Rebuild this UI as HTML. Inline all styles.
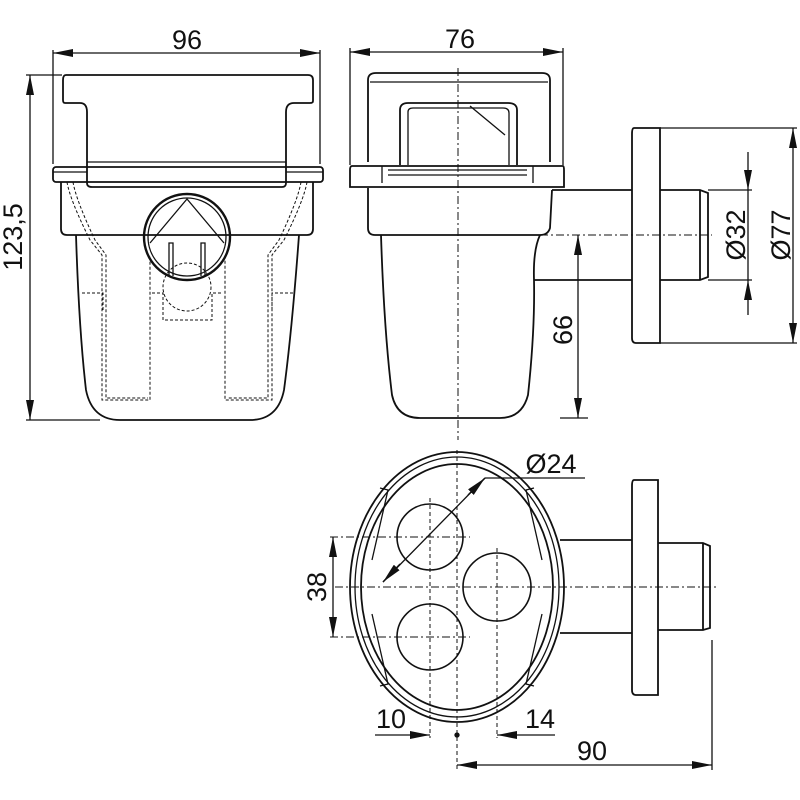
<!DOCTYPE html>
<html><head><meta charset="utf-8"><style>
html,body{margin:0;padding:0;background:#fff;width:800px;height:800px;overflow:hidden}
svg{display:block}
text{font-family:"Liberation Sans",sans-serif;font-size:27px;fill:#111}
</style></head><body>
<svg width="800" height="800" viewBox="0 0 800 800" xmlns="http://www.w3.org/2000/svg">
<defs>
<marker id="a" viewBox="0 0 20 8" refX="20" refY="4" markerWidth="20" markerHeight="8" orient="auto-start-reverse" markerUnits="userSpaceOnUse"><path d="M0,0 L20,4 L0,8z" fill="#111"/></marker>
</defs>
<g fill="none" stroke="#111" stroke-width="1.3">
<!-- LEFT VIEW -->
<line x1="53" y1="50" x2="53" y2="164"/><line x1="320" y1="50" x2="320" y2="164"/>
<line x1="53" y1="53" x2="320" y2="53" marker-start="url(#a)" marker-end="url(#a)"/>
<line x1="26" y1="75" x2="62" y2="75"/><line x1="26" y1="420" x2="100" y2="420"/>
<line x1="30" y1="75" x2="30" y2="420" marker-start="url(#a)" marker-end="url(#a)"/>
<path d="M66,75 H308 Q313,75 313,80 V101 Q313,103 310,103 H294 Q286,103 286,112 V183 Q286,187 282,187 H92 Q87,187 87,183 V112 Q87,103 80,103 H65 Q63,103 63,100 V80 Q63,75 66,75Z" stroke-width="1.8"/>
<line x1="87" y1="162" x2="286" y2="162"/>
<rect x="53" y="167" width="270" height="15" rx="3" stroke-width="1.8"/>
<line x1="53" y1="172" x2="87" y2="172"/><line x1="286" y1="172" x2="323" y2="172"/>
<path d="M61,182 V229 Q61,235 67,235 H307 Q313,235 313,229 V182" stroke-width="1.8"/>
<path d="M76,235 Q79,330 86,390 Q92,420 120,420 H250 Q278,420 284,390 Q292,330 299,235" stroke-width="1.8"/>
<circle cx="187" cy="237" r="43" stroke-width="2.4"/>
<circle cx="187" cy="237" r="39"/>
<path d="M150,243 L187,199 L224,243"/>
<path d="M169,276 V243 H173 V276 M201,276 V243 H205 V276"/>
<g stroke-dasharray="3,2" stroke-width="1">
<circle cx="187" cy="287" r="24"/>
<path d="M67,182 Q70,200 90,240 L102,255 V400 H150 V255"/>
<path d="M73,182 Q76,200 95,240 L106,255 V398 H148"/>
<path d="M307,182 Q304,200 284,240 L272,255 V400 H225 V255"/>
<path d="M301,182 Q298,200 279,240 L268,255 V398 H227"/>
<path d="M82,293 H103 V310 M293,293 H272 V310 M152,293 H163 V320 H212 V293 H222"/>
</g>
<!-- MIDDLE VIEW -->
<line x1="350" y1="48" x2="350" y2="165"/><line x1="563" y1="48" x2="563" y2="165"/>
<line x1="350" y1="52" x2="563" y2="52" marker-start="url(#a)" marker-end="url(#a)"/>
<line x1="458" y1="68" x2="458" y2="440" stroke-dasharray="8,3,2,3" stroke-width="1"/>
<path d="M368,162 V80 Q368,73 376,73 H542 Q550,73 550,80 V162" stroke-width="1.8"/>
<line x1="370" y1="82" x2="548" y2="82"/>
<path d="M400,165 V110 Q400,103 408,103 H508 Q517,103 517,110 V165" stroke-width="1.8"/>
<path d="M408,165 V112 Q408,108 413,108 H503 Q509,108 509,113 V165"/>
<path d="M470,106 L505,135"/>
<path d="M352,166 H563 Q564,166 564,170 V187 H350 V170 Q350,166 352,166Z" stroke-width="1.8"/>
<path d="M382,166 V183 M533,166 V183 M388,170 H527 M388,175 H527"/>
<path d="M368,188 V228 Q368,235 375,235 H540 Q548,235 550,228 L552,190" stroke-width="1.8"/>
<path d="M381,235 Q384,330 392,395 Q397,418 420,418 H500 Q522,418 528,395 Q535,330 534,280 Q533,250 540,235" stroke-width="1.8"/>
<path d="M552,190 H632 M534,280 H632" stroke-width="1.8"/>
<path d="M634,128 H660 V343 H636 Q632,343 632,338 V134 Q632,128 634,128Z" stroke-width="1.8"/>
<path d="M660,190 H700 L708,193 V277 L700,280 H660 M700,190 V280" stroke-width="1.8"/>
<line x1="540" y1="235" x2="712" y2="235" stroke-dasharray="8,3,2,3" stroke-width="1"/>
<line x1="560" y1="418" x2="588" y2="418"/>
<line x1="578" y1="235" x2="578" y2="418" marker-start="url(#a)" marker-end="url(#a)"/>
<line x1="708" y1="190" x2="752" y2="190"/><line x1="708" y1="280" x2="752" y2="280"/>
<line x1="748" y1="152" x2="748" y2="190" marker-end="url(#a)"/>
<line x1="748" y1="315" x2="748" y2="280" marker-end="url(#a)"/>
<line x1="748" y1="190" x2="748" y2="280"/>
<line x1="660" y1="128" x2="797" y2="128"/><line x1="660" y1="343" x2="797" y2="343"/>
<line x1="793" y1="128" x2="793" y2="343" marker-start="url(#a)" marker-end="url(#a)"/>
<!-- BOTTOM VIEW -->
<ellipse cx="457" cy="587" rx="107" ry="135" stroke-width="1.8"/>
<ellipse cx="457" cy="587" rx="102" ry="130"/>
<ellipse cx="457" cy="587" rx="96" ry="123" stroke-width="1.8"/>
<path d="M380,488 L388,490 L372,560 M380,686 L388,684 L372,614 M534,488 L526,490 L542,560 M534,686 L526,684 L542,614"/>
<circle cx="430" cy="537" r="33" stroke-width="1.6"/>
<circle cx="430" cy="637" r="33" stroke-width="1.6"/>
<circle cx="497" cy="587" r="34" stroke-width="1.6"/>
<g stroke-dasharray="8,3,2,3" stroke-width="1">
<line x1="335" y1="587" x2="716" y2="587"/>
<line x1="330" y1="537" x2="470" y2="537"/>
<line x1="330" y1="637" x2="470" y2="637"/>
</g>
<g stroke-dasharray="4,3" stroke-width="1">
<line x1="457" y1="450" x2="457" y2="770"/>
<line x1="430" y1="498" x2="430" y2="738"/>
<line x1="497" y1="548" x2="497" y2="738"/>
</g>
<path d="M560,540 H632 M560,633 H632" stroke-width="1.8"/>
<path d="M634,480 H658 V695 H636 Q632,695 632,690 V486 Q632,480 634,480Z" stroke-width="1.8"/>
<path d="M658,543 H703 L710,546 V628 L703,630 H658 M703,543 V630" stroke-width="1.8"/>
<line x1="333" y1="537" x2="333" y2="637" marker-start="url(#a)" marker-end="url(#a)"/>
<line x1="485" y1="478" x2="585" y2="478"/>
<line x1="383" y1="582" x2="485" y2="478"/>
<line x1="400" y1="564" x2="383" y2="582" marker-end="url(#a)"/>
<line x1="468" y1="495" x2="485" y2="478" marker-end="url(#a)"/>
<line x1="375" y1="735" x2="430" y2="735" marker-end="url(#a)"/>
<line x1="555" y1="735" x2="497" y2="735" marker-end="url(#a)"/>
<circle cx="457" cy="735" r="2" fill="#111"/>
<line x1="712" y1="640" x2="712" y2="770"/>
<line x1="457" y1="765" x2="712" y2="765" marker-start="url(#a)" marker-end="url(#a)"/>
</g>
<text x="187" y="49" text-anchor="middle">96</text>
<text x="460" y="48" text-anchor="middle">76</text>
<text transform="translate(22,237) rotate(-90)" text-anchor="middle">123,5</text>
<text transform="translate(572,330) rotate(-90)" text-anchor="middle">66</text>
<text transform="translate(745,235) rotate(-90)" text-anchor="middle">Ø32</text>
<text transform="translate(790,235) rotate(-90)" text-anchor="middle">Ø77</text>
<text transform="translate(326,587) rotate(-90)" text-anchor="middle">38</text>
<text x="551" y="473" text-anchor="middle">Ø24</text>
<text x="391" y="728" text-anchor="middle">10</text>
<text x="540" y="728" text-anchor="middle">14</text>
<text x="592" y="760" text-anchor="middle">90</text>
</svg>
</body></html>
